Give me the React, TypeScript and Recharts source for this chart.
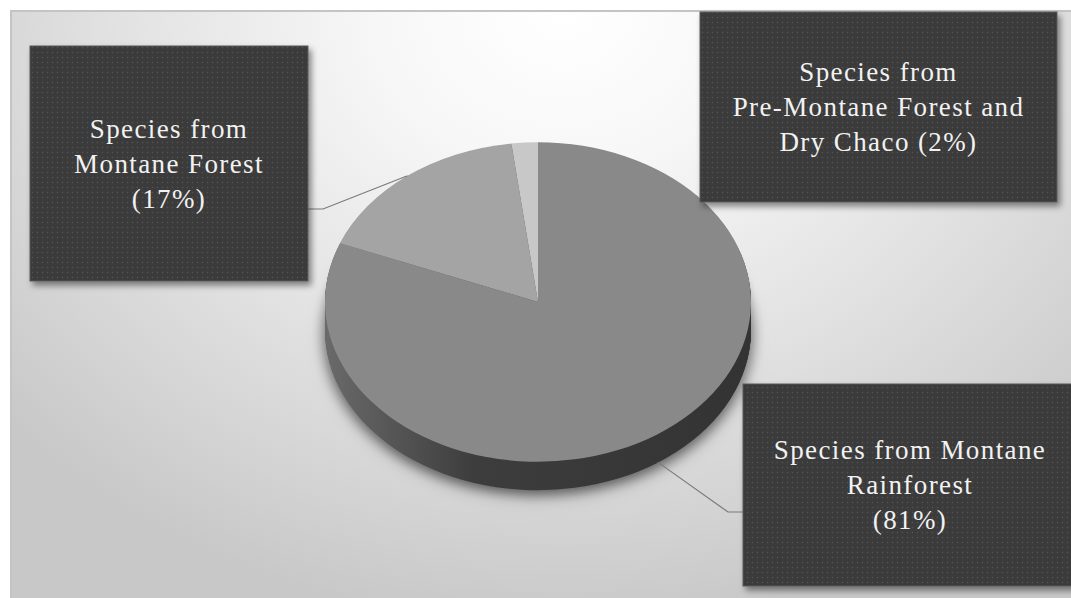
import { PieChart, Pie, Cell } from 'recharts';

// slice names (line breaks as in the original labels) and their shares
const categories = [
  'Species from Montane\nRainforest',
  'Species from\nMontane Forest',
  'Species from\nPre-Montane Forest and\nDry Chaco',
];
const shares = [81, 17, 2];
const sliceColors = ['#898989', '#a4a4a4', '#c8c8c8'];

const data = categories.map((name, i) => ({ name, value: shares[i] }));

// geometry of the tilted pie
const W = 1071;
const H = 598;
const SQUASH = 0.75;
const CX = 538;
const CY = 302 / SQUASH;
const R = 213;
const DEPTH = 28; // px on screen
const sideSteps = Array.from({ length: Math.ceil(DEPTH / SQUASH) }, (_, i) => Math.ceil(DEPTH / SQUASH) - i);

// where each label box sits
const boxLayout = [
  { x: 743, y: 384, w: 334, h: 202, leader: true, onSide: true, elbowX: 728, elbowY: 512, join: '\n' },
  { x: 30, y: 46, w: 278, h: 235, leader: true, onSide: false, elbowX: 323, elbowY: 209, join: '\n' },
  { x: 700, y: 12, w: 357, h: 190, leader: false, onSide: false, elbowX: 0, elbowY: 0, join: ' ' },
];

const LINE_H = 35;
const SERIF = '"Liberation Serif", "DejaVu Serif", "Times New Roman", serif';

const renderLabel = (props: any) => {
  const { cx, cy, midAngle, outerRadius, index, percent } = props;
  const box = boxLayout[index];
  const rad = (-midAngle * Math.PI) / 180;
  const ex = cx + outerRadius * Math.cos(rad);
  const ey = (cy + outerRadius * Math.sin(rad)) * SQUASH + (box.onSide ? DEPTH : 0);
  const text = categories[index] + box.join + `(${Math.round(percent * 100)}%)`;
  const lines = text.split('\n');
  const midX = box.x + box.w / 2;
  const midY = box.y + box.h / 2;
  const edgeX = box.elbowX > midX ? box.x + box.w : box.x;

  return (
    <g key={`lbl-${index}`}>
      {box.leader && (
        <polyline
          points={`${ex},${ey} ${box.elbowX},${box.elbowY} ${edgeX},${box.elbowY}`}
          fill="none"
          stroke="#7a7a7a"
          strokeWidth={1.2}
        />
      )}
      <rect
        x={box.x}
        y={box.y}
        width={box.w}
        height={box.h}
        fill="url(#dots)"
        stroke="#5a5a5a"
        strokeWidth={1}
        filter="url(#boxShadow)"
      />
      <text
        x={midX}
        textAnchor="middle"
        fill="#f2f2f2"
        style={{ fontFamily: SERIF, fontSize: 27, letterSpacing: 1.4 }}
      >
        {lines.map((ln, i) => (
          <tspan key={i} x={midX} y={midY + (i - (lines.length - 1) / 2) * LINE_H} dy="0.35em">
            {ln}
          </tspan>
        ))}
      </text>
    </g>
  );
};

export default function App() {
  return (
    <div style={{ position: 'relative', width: W, height: H, background: '#fff', overflow: 'hidden', fontFamily: SERIF }}>
      <style>{`
        body { margin: 0; }
        .pie3d path.recharts-sector { transform: scaleY(${SQUASH}); transform-origin: 0 0; }
        .pie3d .side-shadow { filter: drop-shadow(0px 5px 7px rgba(0,0,0,0.35)); }
        .pie3d text, .pie3d tspan { font-family: ${SERIF} !important; }
      `}</style>

      <svg width={0} height={0} style={{ position: 'absolute' }}>
        <defs>
          <pattern id="dots" width={5} height={5} patternUnits="userSpaceOnUse">
            <rect width={5} height={5} fill="#3b3b3b" />
            <circle cx={2.5} cy={2.5} r={0.8} fill="#535353" />
          </pattern>
          <linearGradient id="sideGrad" gradientUnits="userSpaceOnUse" x1={325} y1={0} x2={752} y2={0}>
            <stop offset="0%" stopColor="#6a6a6a" />
            <stop offset="35%" stopColor="#3d3d3d" />
            <stop offset="100%" stopColor="#333333" />
          </linearGradient>
          <filter id="boxShadow" x="-10%" y="-10%" width="130%" height="130%">
            <feDropShadow dx={3} dy={4} stdDeviation={3} floodColor="#000" floodOpacity={0.45} />
          </filter>
        </defs>
      </svg>

      <div
        style={{
          position: 'absolute',
          left: 10,
          top: 10,
          width: W - 10,
          height: H - 10,
          borderTop: '2px solid #c4c4c4',
          borderLeft: '2px solid #c4c4c4',
          boxSizing: 'border-box',
          background:
            'radial-gradient(ellipse 70% 105% at 52% 0%, #ffffff 0%, #f7f7f7 25%, #e2e2e2 60%, #d2d2d2 85%, #c8c8c8 100%)',
        }}
      />

      <div className="pie3d" style={{ position: 'absolute', left: 0, top: 0 }}>
        <PieChart width={W} height={H} margin={{ top: 0, right: 0, bottom: 0, left: 0 }}>
          {sideSteps.map((d, i) => (
            <Pie
              key={`side-${d}`}
              className={i === 0 ? 'side-shadow' : undefined}
              data={data}
              dataKey="value"
              nameKey="name"
              cx={CX}
              cy={CY + d}
              outerRadius={R}
              startAngle={90}
              endAngle={-270}
              fill="url(#sideGrad)"
              stroke="none"
              isAnimationActive={false}
            />
          ))}
          <Pie
            data={data}
            dataKey="value"
            nameKey="name"
            cx={CX}
            cy={CY}
            outerRadius={R}
            startAngle={90}
            endAngle={-270}
            stroke="none"
            labelLine={false}
            label={renderLabel}
            isAnimationActive={false}
          >
            {data.map((entry, index) => (
              <Cell key={`cell-${index}`} fill={sliceColors[index]} />
            ))}
          </Pie>
        </PieChart>
      </div>
    </div>
  );
}
